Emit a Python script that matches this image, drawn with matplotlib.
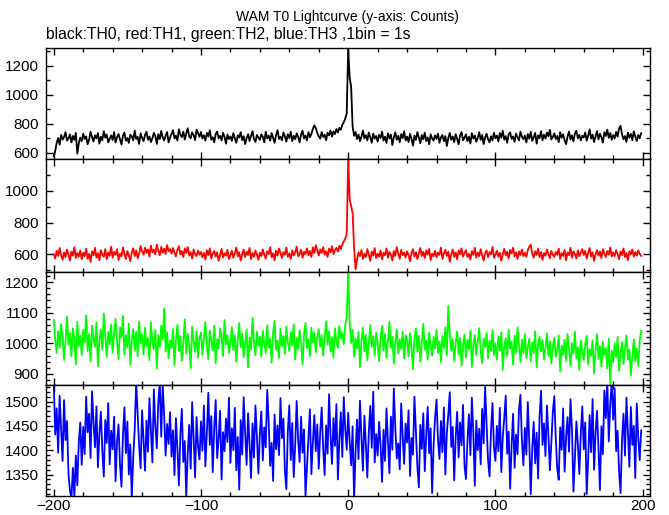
import numpy as np
import matplotlib.pyplot as plt
from matplotlib.ticker import MultipleLocator

plt.rcParams['font.family'] = ['Liberation Sans', 'DejaVu Sans']

# 1 bin = 1 s, bins from -200 s to 199 s
T_START = -200

th0 = [
    575, 612, 668, 701, 655, 722, 690, 708, 741, 683, 697, 726, 671, 715, 688, 736, 592, 664, 703, 679,
    731, 694, 712, 658, 689, 744, 707, 676, 720, 699, 735, 662, 710, 684, 748, 703, 725, 671, 696, 719,
    687, 742, 670, 705, 728, 691, 656, 716, 739, 682, 701, 667, 724, 713, 685, 752, 694, 709, 660, 733,
    702, 678, 721, 744, 689, 711, 673, 698, 736, 715, 660, 727, 693, 749, 706, 684, 718, 742, 671, 704,
    729, 755, 698, 717, 683, 761, 724, 707, 745, 690, 732, 768, 712, 699, 740, 721, 686, 758, 735, 709,
    742, 697, 720, 683, 736, 711, 754, 690, 706, 671, 728, 745, 699, 716, 684, 737, 709, 662, 725, 694,
    712, 681, 735, 697, 668, 720, 704, 741, 686, 713, 659, 699, 727, 680, 716, 748, 693, 674, 722, 705,
    688, 726, 709, 671, 744, 698, 717, 683, 735, 702, 668, 721, 756, 694, 710, 685, 739, 713, 676, 727,
    701, 744, 679, 716, 692, 733, 708, 670, 725, 751, 697, 718, 684, 741, 706, 729, 763, 788, 771, 735,
    713, 696, 742, 708, 724, 685, 737, 719, 752, 711, 746, 728, 763, 739, 771, 758, 792, 810, 835, 870,
    1320, 1118, 1055, 782, 716, 742, 694, 725, 679, 710, 753, 698, 721, 684, 739, 706, 668, 731, 697, 715,
    676, 722, 701, 745, 683, 710, 667, 733, 698, 724, 652, 706, 739, 689, 716, 671, 728, 700, 747, 684,
    711, 673, 729, 695, 648, 718, 687, 742, 704, 665, 721, 692, 737, 679, 705, 658, 726, 698, 683, 719,
    694, 731, 668, 705, 722, 679, 714, 646, 700, 736, 689, 711, 673, 727, 696, 657, 718, 742, 685, 703,
    726, 680, 709, 663, 734, 697, 718, 675, 702, 741, 688, 722, 659, 705, 730, 692, 671, 713, 684, 737,
    699, 718, 677, 736, 702, 751, 689, 714, 668, 725, 740, 695, 712, 674, 731, 706, 684, 745, 710, 692,
    717, 670, 728, 696, 743, 681, 705, 736, 662, 719, 700, 748, 685, 724, 697, 739, 712, 757, 691, 708,
    733, 694, 715, 672, 741, 703, 726, 685, 658, 712, 745, 690, 719, 678, 731, 752, 699, 722, 684, 716,
    705, 739, 682, 718, 760, 697, 724, 673, 712, 748, 691, 730, 706, 669, 741, 715, 758, 702, 735, 688,
    721, 697, 743, 710, 768, 785, 726, 692, 715, 674, 738, 703, 729, 686, 747, 711, 680, 722, 699, 734,
]

th1 = [
    601, 574, 622, 589, 640, 596, 566, 613, 583, 630, 598, 561, 617, 592, 645, 577, 608, 585, 624, 569,
    611, 588, 635, 572, 603, 552, 619, 594, 641, 580, 607, 563, 626, 599, 584, 633, 570, 612, 591, 648,
    579, 615, 597, 632, 564, 606, 587, 644, 602, 571, 620, 593, 556, 611, 638, 589, 625, 576, 604, 653,
    617, 598, 642, 608, 631, 585, 655, 613, 629, 600, 661, 622, 594, 647, 610, 636, 602, 658, 619, 633,
    605, 640, 611, 587, 628, 652, 599, 621, 583, 637, 609, 646, 592, 615, 574, 630, 603, 589, 624, 598,
    615, 581, 609, 567, 626, 595, 638, 574, 603, 621, 586, 612, 559, 597, 634, 580, 607, 591, 628, 571,
    594, 622, 578, 606, 643, 587, 613, 560, 601, 629, 583, 617, 596, 640, 570, 608, 585, 624, 599, 565,
    611, 588, 631, 597, 574, 619, 602, 645, 581, 607, 563, 623, 592, 636, 609, 577, 614, 598, 642, 584,
    606, 571, 625, 593, 612, 649, 587, 603, 629, 579, 617, 600, 638, 594, 621, 583, 644, 608, 657, 626,
    592, 631, 608, 645, 598, 620, 584, 636, 613, 651, 602, 627, 641, 618, 654, 633, 662, 681, 700, 727,
    1199, 948, 902, 858, 641, 505, 566, 612, 589, 627, 571, 604, 583, 633, 596, 559, 618, 592, 639, 576,
    603, 585, 624, 568, 610, 594, 637, 579, 615, 598, 562, 621, 590, 645, 607, 573, 628, 596, 611, 580,
    619, 594, 557, 608, 632, 586, 613, 570, 603, 640, 589, 616, 577, 625, 598, 634, 565, 604, 587, 622,
    581, 611, 596, 643, 572, 605, 628, 590, 617, 553, 599, 631, 584, 612, 569, 624, 601, 638, 586, 609,
    627, 583, 604, 568, 620, 597, 642, 579, 611, 588, 633, 595, 561, 606, 625, 582, 614, 600, 647, 578,
    598, 623, 585, 610, 560, 601, 634, 593, 616, 574, 628, 605, 642, 587, 612, 571, 619, 596, 630, 589,
    609, 585, 627, 648, 661, 603, 579, 620, 596, 637, 582, 614, 565, 608, 591, 630, 603, 575, 622, 597,
    584, 615, 598, 636, 571, 607, 590, 628, 563, 612, 595, 641, 580, 618, 602, 574, 625, 588, 610, 633,
    596, 622, 573, 609, 640, 586, 613, 559, 601, 627, 591, 618, 577, 632, 605, 583, 621, 598, 644, 587,
    612, 589, 626, 601, 570, 618, 595, 637, 582, 608, 563, 620, 599, 631, 586, 614, 592, 625, 604, 590,
]

th2 = [
    1076, 1012, 968, 1040, 985, 1063, 1021, 946, 1008, 1087, 995, 1034, 958, 1049, 1015, 932, 1071, 990, 1026, 962,
    1044, 1003, 1092, 975, 1030, 941, 1058, 1017, 988, 1069, 925, 1011, 1046, 979, 1098, 1024, 956, 1037, 997, 1062,
    970, 1033, 1081, 1005, 948, 1052, 1019, 1090, 964, 1027, 986, 1064, 930, 1009, 1047, 978, 1038, 957, 1072, 1000,
    1029, 963, 1051, 992, 1017, 945, 1068, 1004, 981, 1043, 917, 1026, 989, 1058, 1012, 1114, 973, 1036, 951, 1010,
    985, 1047, 928, 1013, 1061, 976, 1024, 943, 1002, 1079, 966, 1031, 998, 919, 1054, 1008, 972, 1040, 953, 1016,
    1035, 962, 1018, 1070, 991, 948, 1042, 1005, 977, 1058, 934, 1014, 983, 1049, 1021, 958, 1076, 996, 1027, 969,
    1004, 1053, 978, 1026, 940, 1011, 1066, 987, 1032, 955, 999, 1045, 921, 1019, 980, 1083, 1007, 961, 1038, 993,
    1022, 957, 1041, 1000, 968, 1059, 986, 1015, 937, 1034, 1073, 979, 1009, 952, 1048, 990, 1024, 966, 1055, 1001,
    975, 1037, 994, 1062, 947, 1018, 982, 1043, 1006, 931, 1028, 1067, 984, 1013, 958, 1051, 1002, 1035, 970, 1023,
    1046, 989, 1027, 960, 1014, 1072, 996, 1039, 973, 1020, 954, 1049, 1008, 985, 1056, 1017, 1033, 998, 1061, 1087,
    1232, 1068, 1001, 1044, 957, 1016, 983, 1037, 922, 1009, 1052, 974, 1028, 945, 1003, 1060, 989, 1024, 961, 1035,
    998, 942, 1019, 1057, 976, 1030, 953, 1008, 1071, 985, 1022, 934, 1004, 1046, 968, 1013, 981, 1039, 950, 1026,
    1011, 957, 1033, 986, 915, 1018, 1049, 972, 1025, 940, 1002, 1063, 979, 1010, 947, 1036, 991, 960, 1021, 983,
    1045, 968, 1007, 939, 1024, 985, 1052, 960, 1122, 1031, 976, 1014, 943, 1000, 1039, 965, 1018, 927, 993, 1029,
    954, 1012, 980, 1041, 923, 997, 1027, 962, 1005, 1050, 971, 935, 1016, 988, 1034, 951, 1009, 975, 1043, 962,
    1001, 946, 1023, 977, 1036, 913, 990, 1017, 958, 1044, 982, 1006, 930, 1025, 970, 1052, 994, 939, 1012, 967,
    1030, 952, 987, 1015, 941, 1003, 968, 1040, 921, 996, 1021, 974, 1011, 947, 985, 1033, 959, 1007, 934, 990,
    1018, 956, 979, 1026, 908, 993, 962, 1012, 944, 1031, 980, 927, 1001, 966, 1038, 950, 988, 913, 1009, 972,
    945, 997, 1024, 931, 980, 959, 1010, 902, 973, 1030, 948, 991, 924, 1006, 962, 985, 918, 1015, 868, 976,
    938, 999, 955, 1021, 910, 968, 1004, 932, 987, 1026, 947, 979, 895, 960, 1013, 941, 983, 926, 1008, 1042,
]

th3 = [
    1540, 1432, 1486, 1395, 1512, 1447, 1378, 1503, 1421, 1460, 1352, 1318, 1300, 1364, 1305, 1389, 1328, 1415, 1457, 1370,
    1448, 1392, 1510, 1437, 1475, 1384, 1521, 1458, 1406, 1490, 1365, 1433, 1479, 1399, 1346, 1462, 1415, 1497, 1371, 1440,
    1402, 1469, 1336, 1418, 1453, 1372, 1325, 1431, 1488, 1394, 1459, 1350, 1412, 1301, 1386, 1443, 1540, 1476, 1409, 1363,
    1482, 1420, 1358, 1461, 1397, 1507, 1439, 1375, 1525, 1450, 1404, 1496, 1540, 1428, 1536, 1471, 1389, 1454, 1413, 1478,
    1387, 1441, 1349, 1466, 1403, 1328, 1430, 1485, 1376, 1419, 1305, 1393, 1452, 1362, 1499, 1426, 1344, 1468, 1408, 1381,
    1459, 1399, 1492, 1367, 1434, 1518, 1411, 1470, 1355, 1446, 1503, 1384, 1423, 1481, 1340, 1437, 1398, 1465, 1417, 1508,
    1374, 1445, 1400, 1487, 1359, 1427, 1319, 1462, 1391, 1509, 1436, 1370, 1476, 1413, 1343, 1455, 1385, 1492, 1429, 1352,
    1433, 1480, 1379, 1447, 1406, 1524, 1458, 1368, 1415, 1337, 1473, 1402, 1451, 1390, 1507, 1425, 1465, 1358, 1320, 1439,
    1492, 1380, 1456, 1345, 1410, 1501, 1422, 1376, 1469, 1395, 1443, 1307, 1367, 1428, 1484, 1351, 1416, 1472, 1398, 1453,
    1362, 1437, 1488, 1404, 1349, 1451, 1393, 1515, 1430, 1372, 1466, 1409, 1495, 1340, 1421, 1478, 1386, 1509, 1444, 1401,
    1477, 1418, 1369, 1449, 1300, 1397, 1463, 1382, 1502, 1426, 1358, 1471, 1412, 1344, 1438, 1491, 1405, 1520, 1375, 1433,
    1389, 1458, 1411, 1335, 1442, 1378, 1486, 1420, 1353, 1469, 1401, 1527, 1447, 1383, 1414, 1361, 1496, 1429, 1372, 1455,
    1416, 1482, 1347, 1425, 1391, 1510, 1439, 1366, 1324, 1452, 1403, 1476, 1357, 1431, 1489, 1394, 1445, 1312, 1408, 1467,
    1504, 1421, 1382, 1460, 1396, 1488, 1350, 1435, 1473, 1519, 1407, 1448, 1338, 1426, 1479, 1385, 1457, 1410, 1493, 1368,
    1341, 1419, 1474, 1390, 1508, 1436, 1327, 1461, 1400, 1444, 1371, 1485, 1414, 1530, 1453, 1379, 1346, 1440, 1497, 1406,
    1378, 1450, 1398, 1487, 1355, 1427, 1466, 1512, 1393, 1438, 1321, 1409, 1475, 1364, 1432, 1392, 1483, 1514, 1420, 1369,
    1446, 1391, 1499, 1417, 1310, 1403, 1458, 1373, 1436, 1342, 1470, 1522, 1411, 1455, 1388, 1492, 1430, 1359, 1416, 1479,
    1511, 1424, 1362, 1339, 1447, 1401, 1486, 1356, 1428, 1468, 1397, 1505, 1443, 1315, 1384, 1459, 1413, 1351, 1434, 1490,
    1402, 1457, 1310, 1380, 1472, 1396, 1505, 1360, 1435, 1481, 1405, 1318, 1449, 1392, 1523, 1466, 1540, 1418, 1494, 1540,
    1463, 1527, 1398, 1440, 1356, 1312, 1421, 1475, 1389, 1508, 1437, 1366, 1489, 1411, 1450, 1343, 1496, 1426, 1380, 1441,
]

series = [th0, th1, th2, th3]
colors = ['black', '#ff0000', '#00ff00', '#0000ff']
ylims = [(556, 1322), (489, 1199), (864, 1233), (1306, 1534)]
ymajor = [200, 200, 100, 50]
yminor = [100, 100, 20, 10]

W, H = 669, 515
left, right = 45.5, 650
edges = [48, 159, 272, 385, 496]

fig = plt.figure(figsize=(W / 100, H / 100), dpi=100)

for i, vals in enumerate(series):
    top, bot = edges[i], edges[i + 1]
    ax = fig.add_axes([left / W, 1 - bot / H, (right - left) / W, (bot - top) / H])
    t = np.arange(len(vals)) + T_START
    ax.plot(t, vals, color=colors[i], lw=1.3)
    ax.set_xlim(-205.6, 205)
    ax.set_ylim(*ylims[i])
    ax.xaxis.set_major_locator(MultipleLocator(100))
    ax.xaxis.set_minor_locator(MultipleLocator(20))
    ax.yaxis.set_major_locator(MultipleLocator(ymajor[i]))
    ax.yaxis.set_minor_locator(MultipleLocator(yminor[i]))
    ax.tick_params(which='both', direction='in', top=True, right=True, width=1.0, labelsize=11)
    ax.tick_params(axis='y', pad=5)
    ax.tick_params(axis='x', pad=2)
    ax.tick_params(which='major', length=5)
    ax.tick_params(which='minor', length=2.8)
    for s in ax.spines.values():
        s.set_linewidth(1.0)
    if i < 3:
        ax.tick_params(labelbottom=False)

fig.text(347 / W, 1 - 17 / H, 'WAM T0 Lightcurve (y-axis: Counts)', ha='center', va='center', fontsize=10)
fig.text(46 / W, 1 - 35 / H, 'black:TH0, red:TH1, green:TH2, blue:TH3 ,1bin = 1s', ha='left', va='center', fontsize=11.3)

fig.savefig('out.png', dpi=100)
